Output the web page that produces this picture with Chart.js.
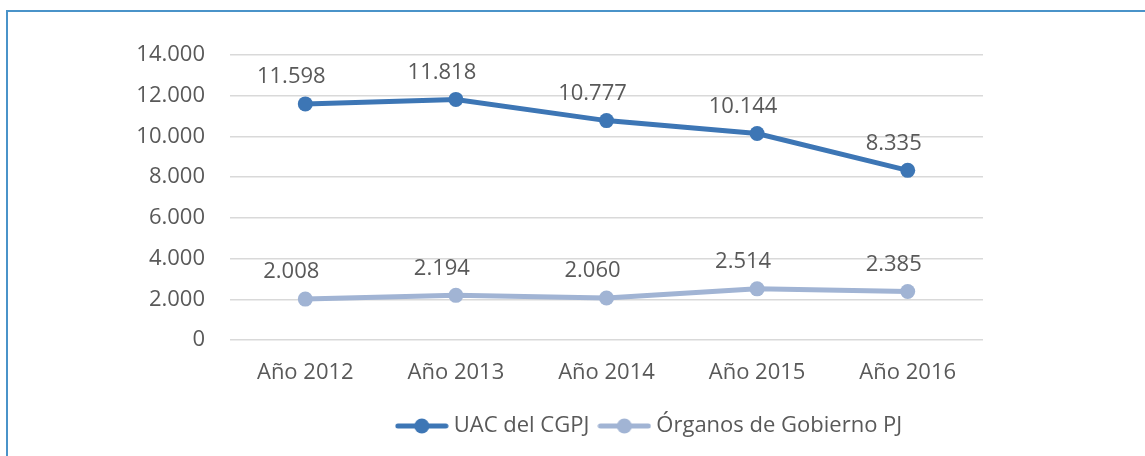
<!DOCTYPE html>
<html>
<head>
<meta charset="utf-8">
<script src="https://cdn.jsdelivr.net/npm/chart.js@4/dist/chart.umd.min.js"></script>
<style>
  html, body { margin: 0; padding: 0; background: #fff; }
  #wrap { position: relative; width: 1145px; height: 456px; overflow: hidden; }
  #frame {
    position: absolute; left: 6px; top: 10px; width: 1300px; height: 600px;
    border-left: 2px solid #4a93c9; border-top: 2px solid #4a93c9;
  }
  canvas { position: absolute; left: 0; top: 0; }
</style>
</head>
<body>
<div id="wrap">
  <div id="frame"></div>
  <canvas id="chart" width="1145" height="456"></canvas>
</div>
<script>
// Chart data
const years = ["Año 2012", "Año 2013", "Año 2014", "Año 2015", "Año 2016"];
const uacValues = [11598, 11818, 10777, 10144, 8335];
const organosValues = [2008, 2194, 2060, 2514, 2385];
const seriesNames = ["UAC del CGPJ", "Órganos de Gobierno PJ"];
const seriesColors = ["#3d76b5", "#a1b4d4"];

const FONT = "'Open Sans', 'Noto Sans', sans-serif";
const TEXT = "#595959";

function fmt(v) {
  return v.toLocaleString("de-DE");
}

// small line+dot icon for the legend
function legendIcon(color) {
  const c = document.createElement("canvas");
  c.width = 54;
  c.height = 18;
  const ctx = c.getContext("2d");
  ctx.strokeStyle = color;
  ctx.lineWidth = 5;
  ctx.lineCap = "round";
  ctx.beginPath();
  ctx.moveTo(3, 9);
  ctx.lineTo(51, 9);
  ctx.stroke();
  ctx.fillStyle = color;
  ctx.beginPath();
  ctx.arc(27, 9, 7.5, 0, Math.PI * 2);
  ctx.fill();
  return c;
}

// value labels above each point
const valueLabels = {
  id: "valueLabels",
  afterDatasetsDraw(chart) {
    const ctx = chart.ctx;
    ctx.save();
    ctx.font = "22px " + FONT;
    ctx.fillStyle = TEXT;
    ctx.textAlign = "center";
    ctx.textBaseline = "middle";
    chart.data.datasets.forEach((ds, i) => {
      chart.getDatasetMeta(i).data.forEach((pt, j) => {
        ctx.fillText(fmt(ds.data[j]), pt.x - 14, pt.y - 27);
      });
    });
    ctx.restore();
  },
};

// move the legend to the right like the original
const legendShift = {
  id: "legendShift",
  afterLayout(chart) {
    chart.legend.left += 160;
    chart.legend.right += 160;
  },
};

new Chart(document.getElementById("chart"), {
  type: "line",
  data: {
    labels: years,
    datasets: [
      {
        label: seriesNames[0],
        data: uacValues,
        borderColor: seriesColors[0],
        backgroundColor: seriesColors[0],
        borderWidth: 5,
        pointRadius: 7.5,
        pointHoverRadius: 7.5,
        pointBorderWidth: 0,
        tension: 0,
      },
      {
        label: seriesNames[1],
        data: organosValues,
        borderColor: seriesColors[1],
        backgroundColor: seriesColors[1],
        borderWidth: 5,
        pointRadius: 7.5,
        pointHoverRadius: 7.5,
        pointBorderWidth: 0,
        tension: 0,
      },
    ],
  },
  options: {
    responsive: false,
    animation: false,
    layout: {
      padding: { top: 55, left: 0, right: 162, bottom: 9 },
    },
    plugins: {
      tooltip: { enabled: false },
      legend: {
        position: "bottom",
        labels: {
          usePointStyle: true,
          pointStyleWidth: 42,
          padding: 14,
          color: TEXT,
          font: { family: FONT, size: 22 },
          generateLabels: (chart) =>
            Chart.defaults.plugins.legend.labels
              .generateLabels(chart)
              .map((item, i) => ({ ...item, pointStyle: legendIcon(seriesColors[i]) })),
        },
      },
    },
    scales: {
      x: {
        offset: true,
        grid: { display: false },
        border: { display: false },
        ticks: {
          color: TEXT,
          font: { family: FONT, size: 22 },
          padding: 12,
        },
        afterFit: (scale) => {
          scale.height = 61;
        },
      },
      y: {
        min: 0,
        max: 14000,
        grid: { color: "#d9d9d9", lineWidth: 1.5, drawTicks: false },
        border: { display: false },
        ticks: {
          stepSize: 2000,
          color: TEXT,
          font: { family: FONT, size: 22 },
          padding: 25,
          callback: (v) => fmt(v),
        },
        afterFit: (scale) => {
          scale.width = 230;
        },
      },
    },
  },
  plugins: [valueLabels, legendShift],
});
</script>
</body>
</html>
